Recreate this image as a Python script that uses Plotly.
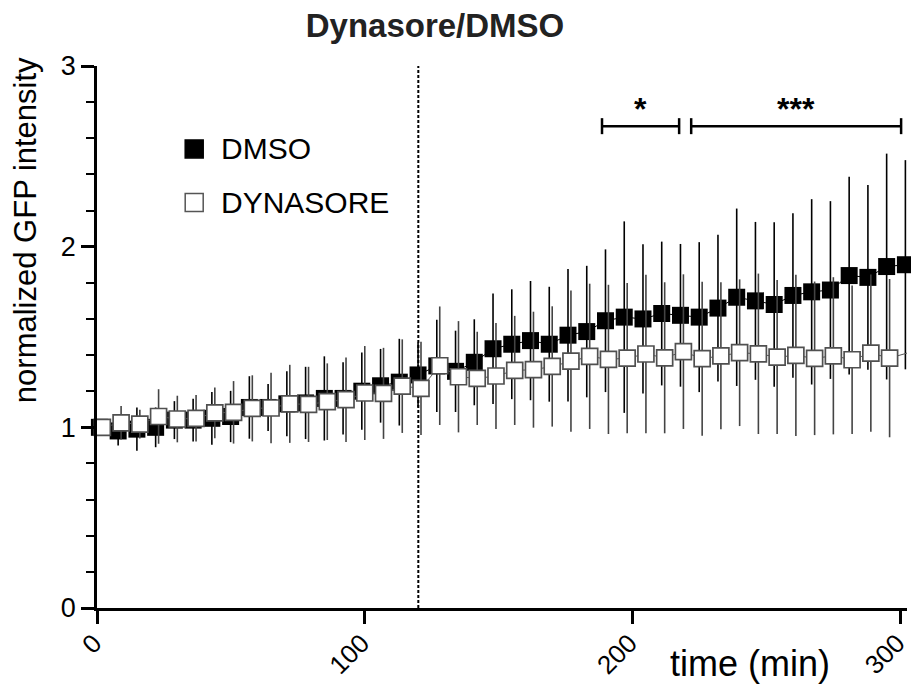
import plotly.graph_objects as go

# ---- data ----
times = [0, 7, 14, 21, 28, 35, 42, 49, 56, 63, 70, 77, 84, 91, 98, 105, 112, 119,
         126, 133, 140, 147, 154, 161, 168, 175, 182, 189, 196, 203, 210, 217, 224,
         231, 238, 245, 252, 259, 266, 273, 280, 287, 294, 301]

dmso_mean = [1.00, 0.98, 0.99, 1.00, 1.04, 1.04, 1.05, 1.06, 1.11, 1.11, 1.13, 1.135,
             1.16, 1.16, 1.20, 1.23, 1.25, 1.29, 1.34, 1.31, 1.36, 1.435, 1.46, 1.48,
             1.46, 1.51, 1.53, 1.59, 1.61, 1.60, 1.63, 1.62, 1.61, 1.66, 1.72, 1.70,
             1.68, 1.73, 1.75, 1.76, 1.84, 1.83, 1.89, 1.90]
dmso_sd = [0.02, 0.08, 0.12, 0.11, 0.105, 0.118, 0.146, 0.142, 0.173, 0.13, 0.18, 0.20,
           0.233, 0.20, 0.214, 0.204, 0.24, 0.18, 0.255, 0.225, 0.238, 0.306, 0.304,
           0.33, 0.318, 0.367, 0.364, 0.395, 0.53, 0.413, 0.398, 0.395, 0.415, 0.406,
           0.491, 0.437, 0.455, 0.455, 0.513, 0.492, 0.547, 0.511, 0.625, 0.579]

dyn_mean = [1.00, 1.025, 1.018, 1.06, 1.046, 1.05, 1.08, 1.083, 1.105, 1.107, 1.13,
            1.127, 1.142, 1.153, 1.19, 1.188, 1.228, 1.216, 1.341, 1.28, 1.271, 1.284,
            1.315, 1.319, 1.337, 1.367, 1.393, 1.376, 1.383, 1.406, 1.385, 1.419, 1.38,
            1.396, 1.413, 1.407, 1.389, 1.398, 1.382, 1.396, 1.374, 1.411, 1.383, 1.413]
dyn_sd = [0.02, 0.093, 0.08, 0.151, 0.129, 0.129, 0.14, 0.173, 0.183, 0.195, 0.216,
          0.208, 0.212, 0.234, 0.26, 0.252, 0.259, 0.258, 0.328, 0.308, 0.258, 0.293,
          0.302, 0.321, 0.333, 0.391, 0.402, 0.413, 0.416, 0.439, 0.418, 0.428, 0.426,
          0.407, 0.406, 0.444, 0.426, 0.446, 0.425, 0.435, 0.411, 0.435, 0.438, 0.493]

series_names = ["DMSO", "DYNASORE"]
x_ticks = [0, 100, 200, 300]
y_ticks = [0, 1, 2, 3]
treatment_time = 120

sig_start = [188.6, 221.9]
sig_end = [217.4, 300.3]
sig_labels = ["*", "***"]
sig_y = 2.667

FONT = "Arial, Liberation Sans, Helvetica, sans-serif"

# small horizontal offsets so the two series sit side by side (as in the original)
dmso_x = [t + 0.9 for t in times]
dyn_x = [t + 2.0 for t in times]

fig = go.Figure()

fig.add_trace(go.Scatter(
    x=dmso_x, y=dmso_mean, mode="lines+markers", name=series_names[0],
    line=dict(color="black", width=1),
    marker=dict(symbol="square", size=17, color="black", line=dict(width=0)),
    error_y=dict(type="data", array=dmso_sd, visible=True, color="black",
                 thickness=1.6, width=0),
    cliponaxis=False, showlegend=False,
))
fig.add_trace(go.Scatter(
    x=dyn_x, y=dyn_mean, mode="lines+markers", name=series_names[1],
    line=dict(color="#555555", width=1),
    marker=dict(symbol="square", size=16, color="white",
                line=dict(width=1.7, color="#505050")),
    error_y=dict(type="data", array=dyn_sd, visible=True, color="#444444",
                 thickness=1.6, width=0),
    cliponaxis=False, showlegend=False,
))

shapes = []
# dashed vertical line at treatment time
shapes.append(dict(type="line", xref="x", yref="y", x0=treatment_time, x1=treatment_time,
                   y0=0, y1=3, line=dict(color="black", width=2, dash="3px,2px"),
                   layer="below"))

annotations = []
# significance brackets
for s, e, lab in zip(sig_start, sig_end, sig_labels):
    shapes.append(dict(type="line", xref="x", yref="y", x0=s, x1=e, y0=sig_y, y1=sig_y,
                       line=dict(color="black", width=2.5)))
    for xx in (s, e):
        shapes.append(dict(type="line", xref="x", yref="y", xsizemode="scaled",
                           ysizemode="pixel", yanchor=sig_y, x0=xx, x1=xx, y0=-8, y1=8,
                           line=dict(color="black", width=2.5)))
    annotations.append(dict(x=(s + e) / 2, y=sig_y, xref="x", yref="y", text="<b>%s</b>" % lab,
                            showarrow=False, yanchor="bottom", yshift=-3,
                            font=dict(family=FONT, size=32, color="black")))

# legend (manual)
leg_x = 0.12
leg_y = [0.847, 0.748]
leg_fill = ["black", "white"]
leg_line = ["black", "#555555"]
for name, yy, fc, lc in zip(series_names, leg_y, leg_fill, leg_line):
    shapes.append(dict(type="rect", xref="paper", yref="paper", xsizemode="pixel",
                       ysizemode="pixel", xanchor=leg_x, yanchor=yy, x0=-9, x1=9, y0=-9, y1=9,
                       fillcolor=fc, line=dict(color=lc, width=1.5)))
    annotations.append(dict(x=leg_x, y=yy, xref="paper", yref="paper", text=name,
                            showarrow=False, xanchor="left", yanchor="middle", xshift=25,
                            font=dict(family=FONT, size=30, color="black")))

# axis titles as annotations (placed as in the original)
annotations.append(dict(x=-0.089, y=0.697, xref="paper", yref="paper",
                        text="normalized GFP intensity", textangle=-90, showarrow=False,
                        xanchor="center", yanchor="middle",
                        font=dict(family=FONT, size=31, color="black")))
annotations.append(dict(x=0.806, y=-0.102, xref="paper", yref="paper",
                        text="time (min)", showarrow=False, xanchor="center", yanchor="middle",
                        font=dict(family=FONT, size=36, color="black")))

fig.update_layout(
    width=911, height=688,
    margin=dict(l=97, r=4, t=66, b=80, autoexpand=False),
    paper_bgcolor="white", plot_bgcolor="white",
    title=dict(text="<b>Dynasore/DMSO</b>", x=0.4775, xanchor="center", xref="container",
               y=0.963, yanchor="middle", yref="container",
               font=dict(family=FONT, size=33, color="#222222")),
    shapes=shapes, annotations=annotations,
    font=dict(family=FONT, color="black"),
)
fig.update_xaxes(range=[0, 302.5], tickvals=x_ticks, ticktext=[str(v) for v in x_ticks],
                 tickangle=-45, ticks="outside", ticklen=13, tickwidth=2.5, tickcolor="black",
                 showline=True, linewidth=2.5, linecolor="black", showgrid=False, zeroline=False,
                 automargin=False, ticklabeloverflow="allow",
                 ticklabelstandoff=-6, ticklabelshift=-3,
                 tickfont=dict(family=FONT, size=26, color="black"))
fig.update_yaxes(range=[0, 3], tickvals=y_ticks, ticks="outside", ticklen=13, tickwidth=2.5,
                 tickcolor="black", showline=True, linewidth=2.5, linecolor="black",
                 showgrid=False, zeroline=False, automargin=False, ticklabeloverflow="allow",
                 minor=dict(dtick=0.2, ticks="outside", ticklen=8, tickwidth=2, tickcolor="black",
                            showgrid=False),
                 tickfont=dict(family=FONT, size=27, color="black"))

fig.write_html("out.html", config={"displayModeBar": False},
               post_script="document.body.style.margin='0';document.body.style.overflow='hidden';")
